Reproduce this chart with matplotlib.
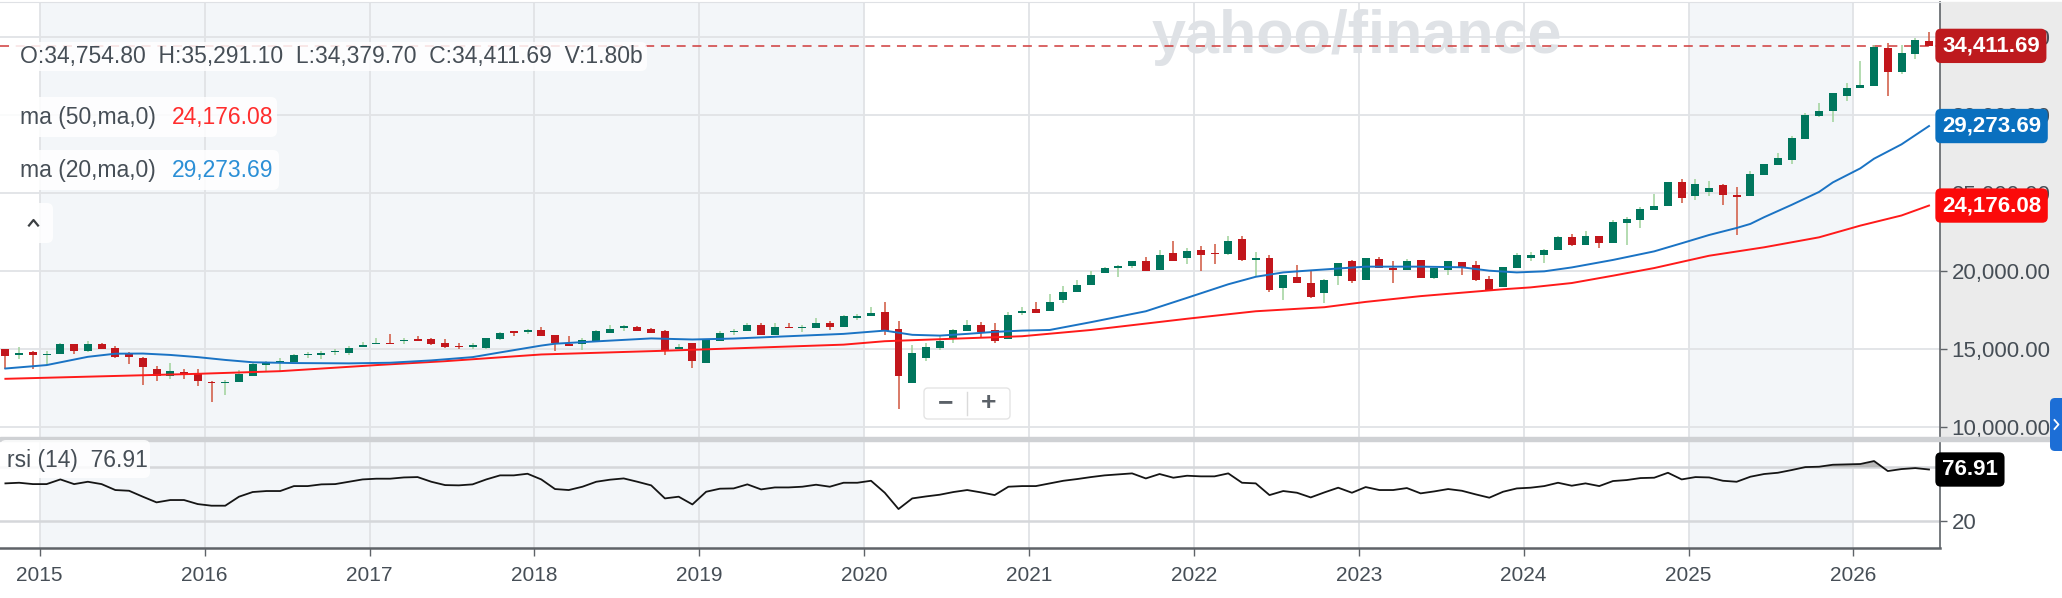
import matplotlib
matplotlib.use("Agg")
import matplotlib.pyplot as plt
import matplotlib.transforms as mtrans
from matplotlib.patches import FancyBboxPatch, Rectangle
from matplotlib.lines import Line2D
import numpy as np

plt.rcParams['font.family'] = ['Liberation Sans', 'DejaVu Sans']

# monthly candles, Oct 2014 .. Jun 2026
opens = [14960, 14590, 14760, 14630, 14680, 15280, 14850, 15280, 15060, 14740,
         14380, 13670, 13280, 13480, 13450, 12870, 12790, 12850, 13260, 14000,
         14140, 14140, 14590, 14590, 14780, 14740, 15110, 15320, 15390, 15490,
         15600, 15600, 15390, 15150, 15150, 15060, 15620, 16100, 16070, 16210,
         15880, 15280, 15300, 15480, 16010, 16360, 16420, 16290, 16120, 14960,
         15350, 14100, 15480, 16060, 16120, 16550, 15880, 16400, 16320, 16340,
         16660, 16420, 17000, 17110, 17370, 16290, 12820, 14400, 15040, 15650,
         16120, 16510, 16210, 15600, 17290, 17570, 17400, 18130, 18660, 19090,
         19850, 20200, 20280, 20590, 20040, 21130, 20830, 21350, 21130, 21040,
         22000, 20720, 20800, 18870, 19610, 19180, 18570, 19650, 20590, 19410,
         20760, 20150, 20070, 20690, 19520, 20070, 20560, 20370, 19500, 18930,
         20170, 20810, 21030, 21350, 22140, 21670, 22250, 21760, 23060, 23280,
         23900, 24120, 25660, 24760, 25060, 25470, 24820, 24760, 26130, 26770,
         27070, 28470, 29940, 30240, 31210, 31740, 31830, 34250, 32750, 33870,
         34754.80]
highs = [14980, 15130, 14850, 14850, 15370, 15300, 15470, 15370, 15170, 14760,
         14460, 13880, 14100, 13730, 13670, 12920, 13000, 13650, 14140, 14210,
         14380, 14680, 14810, 14850, 14980, 15170, 15450, 15670, 15920, 15670,
         15790, 15670, 15600, 15390, 15390, 15710, 16100, 16100, 16250, 16400,
         15880, 15800, 15690, 16210, 16510, 16550, 16440, 16300, 16210, 15300,
         15350, 15560, 16120, 16290, 16660, 16660, 16640, 16660, 16550, 16940,
         16770, 17160, 17240, 17690, 18020, 16770, 15220, 15350, 15820, 16290,
         16810, 16720, 16660, 17370, 17660, 18000, 18520, 19050, 19390, 19960,
         20260, 20370, 20650, 20910, 21350, 21890, 21450, 21560, 21740, 22210,
         22210, 21190, 21020, 19740, 20370, 20000, 19500, 20480, 20690, 20800,
         20910, 20590, 20760, 20690, 20170, 20650, 20560, 20610, 19680, 20260,
         21110, 21220, 21390, 22250, 22360, 22570, 22250, 23220, 23430, 24070,
         24930, 25660, 25870, 25850, 25740, 25530, 25360, 26390, 26820, 27540,
         28620, 30120, 30760, 31400, 32040, 33420, 34440, 34570, 34470, 34890,
         35291.10]
lows = [13730, 14360, 13710, 13950, 14660, 14630, 14800, 14950, 14420, 14030,
        12700, 12960, 13050, 13050, 12640, 11590, 12020, 12850, 13260, 13560,
        13560, 14140, 14420, 14310, 14590, 14590, 15110, 15320, 15300, 15280,
        15490, 15220, 15060, 14960, 14960, 14960, 15580, 15820, 15920, 15800,
        14830, 15150, 14940, 15480, 16010, 16160, 16120, 15990, 14610, 14960,
        13750, 14100, 15480, 15860, 16120, 15880, 15880, 16340, 16060, 16340,
        16230, 16420, 16830, 17110, 15910, 11120, 12820, 14230, 14940, 15370,
        16120, 15690, 15370, 15600, 17180, 17270, 17400, 17940, 18660, 19090,
        19850, 19610, 20150, 19960, 20040, 20610, 20430, 19960, 20430, 20980,
        20610, 19680, 18660, 18110, 19220, 18260, 17940, 19090, 19240, 19410,
        20150, 19240, 20070, 19520, 19460, 19740, 19740, 19350, 18740, 18930,
        20170, 20640, 20490, 21350, 21610, 21670, 21460, 21760, 21670, 22740,
        23900, 24120, 24330, 24540, 24760, 24220, 22290, 24760, 26130, 26770,
        26860, 28470, 29860, 29540, 30890, 31740, 31830, 31210, 32580, 33540,
        34379.70]
closes = [14530, 14740, 14590, 14660, 15280, 14850, 15280, 14980, 14440, 14440,
          13800, 13260, 13560, 13390, 12960, 12790, 12850, 13410, 14010, 14060,
          14210, 14610, 14640, 14740, 14830, 15040, 15260, 15370, 15300, 15540,
          15520, 15320, 15110, 15110, 15220, 15670, 15990, 16030, 16200, 15800,
          15370, 15220, 15580, 16120, 16290, 16420, 16120, 15990, 14940, 15130,
          14230, 15560, 15990, 16120, 16550, 15880, 16400, 16340, 16380, 16640,
          16420, 17070, 17070, 17290, 16160, 13230, 14720, 15130, 15480, 16190,
          16510, 16060, 15480, 17150, 17400, 17270, 18000, 18660, 19070, 19740,
          20150, 20260, 20590, 19960, 21020, 20610, 21240, 21020, 21060, 21890,
          20690, 20780, 18760, 19740, 19220, 18330, 19390, 20480, 19310, 20800,
          20150, 20090, 20650, 19520, 20170, 20650, 20150, 19410, 18790, 20260,
          21010, 20990, 21330, 22140, 21670, 22250, 21760, 23110, 23300, 23940,
          24160, 25660, 24650, 25530, 25320, 24870, 24760, 26170, 26820, 27240,
          28530, 29990, 30220, 31400, 31680, 31920, 34360, 32710, 33930, 34790,
          34411.69]

# moving averages (candle index -> value)
ma20_idx = [0, 3, 6, 8, 10, 12, 14, 16, 18, 21, 25, 28, 31, 34, 36, 39, 40, 43, 47, 50,
            53, 57, 61, 64, 66, 68, 70, 72, 74, 76, 79, 83, 86, 89, 91, 93, 95, 99, 103, 106,
            108, 110, 112, 114, 117, 120, 122, 124, 126, 127, 128, 130, 132, 133, 135, 136, 138, 140]
ma20_vals = [13730, 13950, 14480, 14680, 14690, 14600, 14460, 14280, 14130, 14080,
             14060, 14100, 14250, 14460, 14760, 15200, 15320, 15470, 15660, 15590,
             15650, 15800, 15950, 16160, 15890, 15840, 15950, 16080, 16160, 16200,
             16700, 17400, 18260, 19130, 19610, 19890, 20020, 20260, 20260, 20220,
             20000, 19890, 19960, 20210, 20690, 21240, 21760, 22290, 22740, 23000,
             23430, 24220, 25050, 25660, 26560, 27180, 28100, 29273.69]
ma50_idx = [0, 14, 20, 27, 32, 39, 48, 61, 64, 74, 79, 86, 91, 96, 99, 103, 109, 111,
            114, 117, 120, 124, 128, 132, 135, 138, 140]
ma50_vals = [13070, 13390, 13560, 13950, 14200, 14630, 14870, 15260, 15480, 15800,
             16200, 16920, 17400, 17660, 18000, 18370, 18810, 18930, 19210, 19680,
             20170, 20960, 21500, 22140, 22890, 23540, 24176.08]

rsi_vals = [61.5, 62.2, 60.7, 60.7, 65.9, 60.7, 63.3, 60.7, 54.1, 53.3,
            46.7, 40.4, 43.0, 43.0, 38.5, 36.7, 36.7, 46.7, 51.9, 53.0,
            53.0, 58.5, 58.5, 60.4, 60.7, 63.3, 65.9, 66.7, 66.7, 68.1,
            68.5, 63.3, 59.6, 59.3, 60.4, 65.9, 70.4, 70.4, 72.2, 65.9,
            55.2, 54.1, 57.8, 63.3, 65.6, 67.0, 63.3, 59.3, 44.8, 46.7,
            38.1, 52.2, 55.6, 55.9, 60.4, 54.8, 57.0, 57.0, 57.8, 60.0,
            57.8, 62.2, 62.2, 64.4, 51.1, 33.0, 44.8, 47.0, 48.9, 51.9,
            54.1, 51.5, 48.5, 57.8, 58.5, 58.5, 61.5, 64.4, 66.3, 68.5,
            70.4, 71.5, 72.6, 67.0, 71.9, 67.8, 70.0, 69.3, 69.3, 72.6,
            62.2, 61.5, 48.5, 53.0, 51.1, 45.9, 51.5, 56.7, 51.1, 57.4,
            54.1, 54.1, 56.3, 50.4, 52.6, 55.2, 53.3, 49.3, 45.6, 52.2,
            55.9, 56.7, 58.5, 62.2, 58.9, 61.5, 58.5, 64.1, 65.2, 67.4,
            67.8, 73.3, 65.9, 68.5, 68.1, 64.4, 63.3, 68.9, 71.9, 73.3,
            76.3, 79.6, 80.0, 82.2, 82.6, 83.0, 86.3, 75.2, 77.4, 78.5,
            76.91]

years = ['2015', '2016', '2017', '2018', '2019', '2020',
         '2021', '2022', '2023', '2024', '2025', '2026']
price_ticks = [10000, 15000, 20000, 25000, 30000, 35000]
rsi_ticks = [20, 80]
rsi_tick_labels = ['20', '']  # the 80 label sits under the value box
ohlcv_text = 'O:34,754.80  H:35,291.10  L:34,379.70  C:34,411.69  V:1.80b'

W, H = 2062, 598
PLOT_R = 1940
GREY_TXT = '#464e56'
AXIS_C = '#5f6368'
FS = 16.5

fig = plt.figure(figsize=(W / 100, H / 100), dpi=100)
fig.patch.set_facecolor('white')
tr = fig.dpi_scale_trans


def fy(py):
    return 1 - py / H


def rbox(x0, y0, x1, y1, fc='white', ec='none', r=6, alpha=1.0, z=2.9):
    fig.add_artist(FancyBboxPatch((x0 / 100, (H - y1) / 100), (x1 - x0) / 100, (y1 - y0) / 100,
                                  boxstyle=f'round,pad=0,rounding_size={r / 100}',
                                  transform=tr, fc=fc, ec=ec, alpha=alpha, zorder=z))


def ptext(x, y, s, **kw):
    kw.setdefault('va', 'center')
    kw.setdefault('zorder', 3)
    fig.text(x / 100, (H - y) / 100, s, transform=tr, **kw)


def pline(xs, ys, **kw):
    fig.add_artist(Line2D([v / 100 for v in xs], [(H - v) / 100 for v in ys], transform=tr, **kw))


ax = fig.add_axes([0, fy(437), PLOT_R / W, fy(2) - fy(437)])
ax2 = fig.add_axes([0, fy(548), PLOT_R / W, fy(440) - fy(548)])

# grey background of price scale, separator between panels
fig.add_artist(Rectangle((PLOT_R / W, fy(437)), 1 - PLOT_R / W, fy(2) - fy(437),
                         transform=fig.transFigure, color='#ebebeb', zorder=-1))
fig.add_artist(Rectangle((0, fy(440.6)), 2050 / W, 3.6 / H,
                         transform=fig.transFigure, color='#cfd1d4', zorder=2))

x = np.arange(len(closes))
year_pos = [2.5 + 12 * k for k in range(len(years))]

for a in (ax, ax2):
    a.set_xlim(-0.393, 140.8)
    a.axvspan(2.5, 62.5, color='#f3f6f9', lw=0, zorder=0)
    a.axvspan(122.5, 134.5, color='#f3f6f9', lw=0, zorder=0)
    for yp in year_pos:
        a.axvline(yp, color='#e1e3e6', lw=1.3, zorder=1)
    a.spines['left'].set_visible(False)
    a.spines['right'].set_color(AXIS_C)
    a.spines['right'].set_linewidth(1.2)
    a.yaxis.tick_right()
    a.tick_params(axis='y', length=4.7, width=1, color=AXIS_C, pad=3.5,
                  labelsize=16, labelcolor=GREY_TXT)

# ---- price panel ----
ax.set_ylim(9340, 37224)
for v in price_ticks:
    ax.axhline(v, color='#e1e3e6', lw=1.3, zorder=1)
ax.set_yticks(price_ticks)
ax.set_yticklabels([f'{v:,.2f}' for v in price_ticks])
ax.tick_params(axis='x', bottom=False, labelbottom=False)
ax.spines['bottom'].set_visible(False)
ax.spines['top'].set_color('#dfe1e5')

ax.text(11.52, (H - 53.3) / 100, 'yahoo/finance', transform=tr, fontsize=44,
        weight='bold', color='#dfe2e6', va='baseline', ha='left', zorder=1.6)

ax.axhline(closes[-1], color='#cf3b3b', lw=1.1, ls=(0, (5.9, 4.4)), zorder=2)

o, hi, lo, c = (np.array(v, dtype=float) for v in (opens, highs, lows, closes))
up = c >= o
body = np.abs(c - o)
bottom = np.where(body < 90, (o + c) / 2 - 45, np.minimum(o, c))
body = np.maximum(body, 90)
ax.vlines(x, lo, hi, colors=['#9fd29b' if u else '#d0563f' for u in up], lw=1.1, zorder=3)
ax.bar(x, body, bottom=bottom, width=0.58,
       color=['#00765d' if u else '#c2161c' for u in up], lw=0, zorder=4)

ax.plot(ma50_idx, ma50_vals, color='#ff1a1a', lw=1.4, zorder=5)
ax.plot(ma20_idx, ma20_vals, color='#1a73c4', lw=1.4, zorder=5)

# ---- rsi panel ----
rsi = np.array(rsi_vals)
ax2.set_ylim(-10.3, 109.7)
for v in rsi_ticks:
    ax2.axhline(v, color='#d5d7da', lw=1.8, zorder=1)
ax2.fill_between(x, rsi, 80, where=rsi > 80, interpolate=True, color='#b9b9b9', lw=0, zorder=2)
ax2.plot(x, rsi, color='#151515', lw=1.3, zorder=4)
ax2.set_yticks(rsi_ticks)
ax2.set_yticklabels(rsi_tick_labels)
ax2.set_xticks(year_pos)
ax2.set_xticklabels(years)
ax2.tick_params(axis='x', length=6, width=1, color=AXIS_C, pad=7,
                labelsize=15, labelcolor=GREY_TXT)
ax2.spines['top'].set_visible(False)
ax2.spines['bottom'].set_color(AXIS_C)
ax2.spines['bottom'].set_linewidth(1.8)


def value_box(a, y, s, fc):
    t = mtrans.blended_transform_factory(a.transAxes, a.transData)
    a.text(1942 / PLOT_R, y, s, transform=t, ha='left', va='center', fontsize=16,
           weight='bold', color='white', zorder=10, clip_on=False,
           bbox=dict(boxstyle='round,pad=0.3,rounding_size=0.25', fc=fc, ec='none'))


value_box(ax, closes[-1], f'{closes[-1]:,.2f}', '#be1a1e')
value_box(ax, ma20_vals[-1], f'{ma20_vals[-1]:,.2f}', '#0a70bf')
value_box(ax, ma50_vals[-1], f'{ma50_vals[-1]:,.2f}', '#fb0a0a')
value_box(ax2, rsi_vals[-1], f'{rsi_vals[-1]:.2f}', '#000000')

# ---- overlays: legends, buttons ----
rbox(13, 42, 647, 71, alpha=0.85)
ptext(20, 56.5, ohlcv_text, fontsize=FS, color=GREY_TXT)
rbox(0, 97, 277, 137, alpha=0.85)
ptext(20, 117, 'ma (50,ma,0)', fontsize=FS, color=GREY_TXT)
ptext(172, 117, f'{ma50_vals[-1]:,.2f}', fontsize=FS, color='#ff2d2d')
rbox(0, 150, 279, 190, alpha=0.85)
ptext(20, 170, 'ma (20,ma,0)', fontsize=FS, color=GREY_TXT)
ptext(172, 170, f'{ma20_vals[-1]:,.2f}', fontsize=FS, color='#2b8fd6')
rbox(0, 203, 53, 243, alpha=0.85)
pline([29, 33.5, 38], [225.5, 220, 225.5], color='#3c4043', lw=1.6, zorder=4)
rbox(0, 440, 150, 478, alpha=0.85)
ptext(7, 460, f'rsi (14)  {rsi_vals[-1]:.2f}', fontsize=FS, color=GREY_TXT)

rbox(924, 388, 1010, 419, fc='white', ec='#e4e4e4', r=4)
ptext(945.5, 403, '\u2212', fontsize=19, weight='bold', color='#5b6168', ha='center')
ptext(988.8, 403, '+', fontsize=19, weight='bold', color='#5b6168', ha='center')
pline([967, 967], [392, 415], color='#dadada', lw=1, zorder=4)

rbox(2050, 398, 2072, 451, fc='#1c6ed6', r=5, z=3)
pline([2054.5, 2058.5, 2054.5], [420, 424.5, 429], color='white', lw=1.3, zorder=4)

fig.savefig('out.png', dpi=100, facecolor='white')
